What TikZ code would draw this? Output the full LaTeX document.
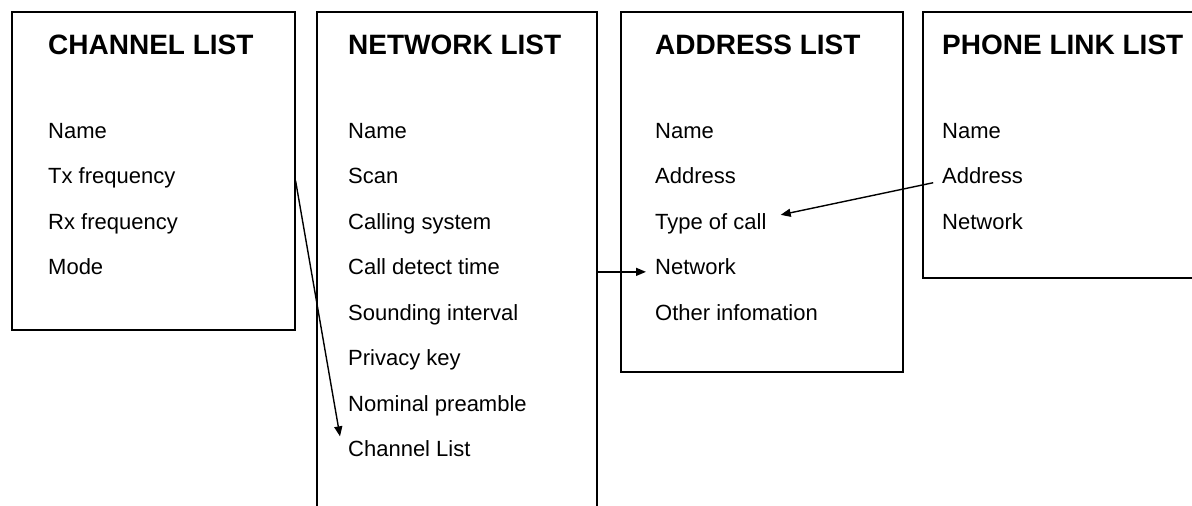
\documentclass[tikz,border=0pt]{standalone}
\usepackage{fontspec}
\setmainfont{Liberation Sans}
\usetikzlibrary{positioning, calc, arrows.meta}

\begin{document}
\begin{tikzpicture}[x=1pt,y=-1pt]
                % Define the styles for the boxes, titles, entries and links
                \tikzstyle{listbox}=[draw, line width=1.6pt, anchor=north west, inner sep=0pt];
                \tikzstyle{listtitle}=[anchor=base west, inner sep=0pt, font=\fontsize{28}{30}\selectfont\bfseries];
                \tikzstyle{entry}=[anchor=base west, inner sep=0pt, font=\fontsize{22}{24}\selectfont];
                \tikzstyle{link}=[line width=1.4pt, -{Triangle[length=10pt,width=8pt]}];

                \useasboundingbox (0,0) rectangle (1192,506);
                \clip (0,0) rectangle (1192,506);

                % Draw the four lists
                \node[listbox, minimum width=283pt, minimum height=318pt] (chbox) at (11,11) {};
                \node[listbox, minimum width=280pt, minimum height=540pt] (nwbox) at (316,11) {};
                \node[listbox, minimum width=282pt, minimum height=360pt] (adbox) at (620,11) {};
                \node[listbox, minimum width=300pt, minimum height=266pt] (phbox) at (922,11) {};

                % Titles
                \node[listtitle] (chtitle) at (48,54) {CHANNEL LIST};
                \node[listtitle] (nwtitle) at (348,54) {NETWORK LIST};
                \node[listtitle] (adtitle) at (655,54) {ADDRESS LIST};
                \node[listtitle] (phtitle) at (942,54) {PHONE LINK LIST};

                % Entries of each list
                \foreach \txt [count=\i] in {Name, Tx frequency, Rx frequency, Mode}
                    \node[entry] (ch\i) at (48,{138+45.5*(\i-1)}) {\txt};
                \foreach \txt [count=\i] in {Name, Scan, Calling system, Call detect time,
                        Sounding interval, Privacy key, Nominal preamble, Channel List}
                    \node[entry] (nw\i) at (348,{138+45.5*(\i-1)}) {\txt};
                \foreach \txt [count=\i] in {Name, Address, Type of call, Network, Other infomation}
                    \node[entry] (ad\i) at (655,{138+45.5*(\i-1)}) {\txt};
                \foreach \txt [count=\i] in {Name, Address, Network}
                    \node[entry] (ph\i) at (942,{138+45.5*(\i-1)}) {\txt};

                % Free ends of the links
                \coordinate (chtip) at ($(nw8.north west)+(-8,-4)$);
                \coordinate (adtip) at ($(ad3.north east)+(14,2)$);

                % Links between the lists
                \draw[link] (chbox.east |- ch2.mid) -- (chtip);
                \draw[link, shorten >=9pt] (nwbox.east |- ad4.mid) -- (ad4.mid west);
                \draw[link, shorten <=9pt] (ph2.mid west) -- (adtip);

            \end{tikzpicture}
\end{document}
